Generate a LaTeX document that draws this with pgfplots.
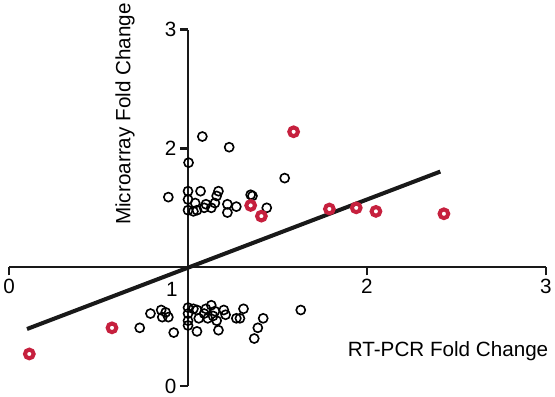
\documentclass[border=0pt]{standalone}
\usepackage{fontspec}
\setmainfont{Liberation Sans}
\usepackage{pgfplots}
\pgfplotsset{compat=1.18}
\definecolor{hitred}{RGB}{198,32,62}
\newcommand{\lblfont}{\fontsize{20.5}{24}\selectfont}
\begin{document}
\begin{tikzpicture}
\begin{axis}[
  x=177.7pt, y=118pt,
  xmin=0, xmax=3, ymin=0, ymax=3,
  axis lines=left,
  % move the axis lines inward so they cross at (1,1)
  axis x line shift=-118pt,
  axis y line shift=-177.7pt,
  axis line style={line width=2.3pt, -, black!90},
  xtick={0,2,3},
  ytick={0,2,3},
  tick align=outside,
  major tick length=8pt,
  tick style={line width=2.3pt, black!90},
  tick label style={font=\lblfont},
  /pgf/number format/assume math mode=true,
  clip=false,
]
% regression line
\addplot[black!90, line width=4pt] coordinates {(0.10,0.48) (2.41,1.805)};
% other genes
\addplot[only marks, mark=o, mark size=4.5pt, mark options={line width=1.6pt, black}] coordinates {
(1.08,2.10) (1.23,2.01) (1.003,1.88) (1.54,1.75) (0.89,1.59) (1.00,1.64)
(1.00,1.57) (1.00,1.48) (1.07,1.64) (1.17,1.64) (1.16,1.60) (1.04,1.54)
(1.10,1.53) (1.15,1.54) (1.05,1.48) (1.09,1.50) (1.22,1.53) (1.22,1.46)
(1.27,1.51) (1.35,1.61) (1.36,1.60) (1.44,1.50) (1.13,1.50) (1.03,1.47)
(0.73,0.49) (0.79,0.61) (0.85,0.64) (0.856,0.58) (0.89,0.58) (0.875,0.62)
(0.92,0.45) (1.00,0.66) (1.00,0.61) (1.00,0.55) (1.00,0.51) (1.03,0.65)
(1.05,0.64) (1.06,0.57) (1.05,0.46) (1.10,0.65) (1.11,0.57) (1.13,0.68)
(1.15,0.63) (1.16,0.55) (1.17,0.47) (1.20,0.64) (1.21,0.60) (1.27,0.57)
(1.29,0.57) (1.31,0.65) (1.42,0.57) (1.39,0.49) (1.37,0.40) (1.63,0.64)
(1.09,0.61) (1.14,0.59)
};
% highlighted genes
\addplot[only marks, mark=o, mark size=4.3pt, mark options={line width=4pt, hitred}] coordinates {
(1.59,2.14) (1.35,1.52) (1.41,1.43) (1.79,1.49) (1.94,1.50) (2.05,1.47)
(2.43,1.45) (0.575,0.49) (0.113,0.27)
};
\node[font=\lblfont] at (axis description cs:0.303,0.272) {1};
\node[font=\lblfont, anchor=east] at (axis description cs:1.011,0.099) {RT-PCR Fold Change};
\node[font=\lblfont, rotate=90] at (axis description cs:0.216,0.763) {Microarray Fold Change};
\end{axis}
\end{tikzpicture}
\end{document}
